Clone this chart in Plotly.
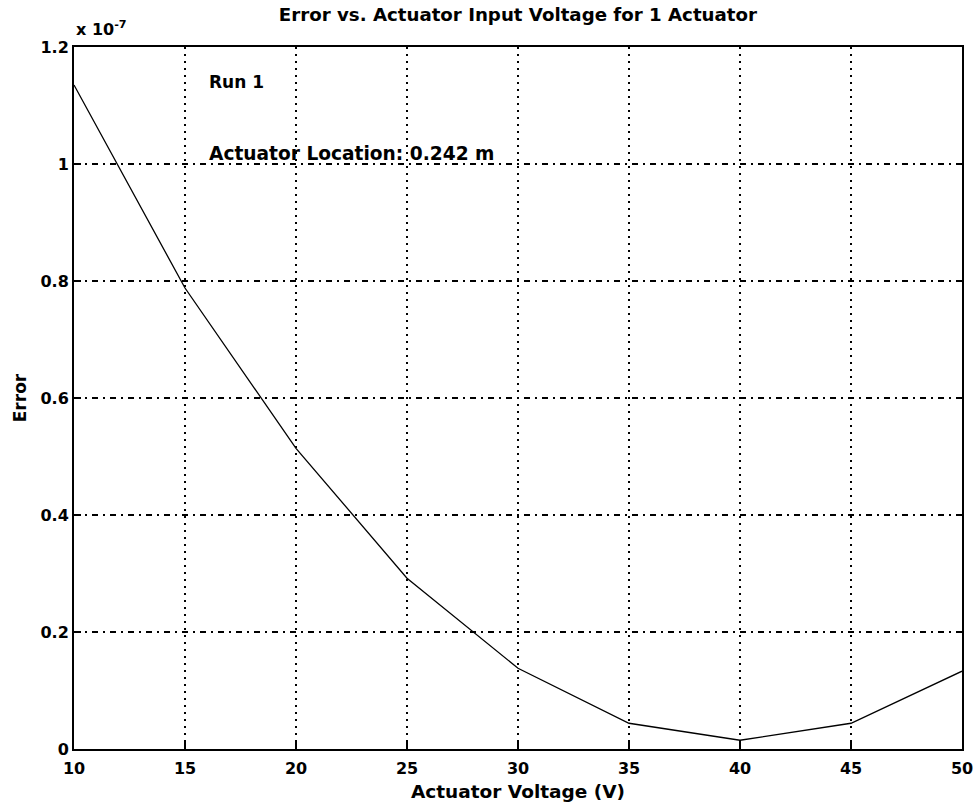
import plotly.graph_objects as go

# Data (error in units of 1e-7)
voltage = [10, 15, 20, 25, 30, 35, 40, 45, 50]
error_e7 = [1.135, 0.788, 0.514, 0.292, 0.138, 0.044, 0.015, 0.044, 0.133]

x_ticks = [10, 15, 20, 25, 30, 35, 40, 45, 50]
x_ticktext = ["10", "15", "20", "25", "30", "35", "40", "45", "50"]
y_ticks = [0, 0.2, 0.4, 0.6, 0.8, 1.0, 1.2]
y_ticktext = ["0", "0.2", "0.4", "0.6", "0.8", "1", "1.2"]

FONT = "DejaVu Sans, Arial, sans-serif"

fig = go.Figure()
fig.add_trace(go.Scatter(x=voltage, y=error_e7, mode="lines",
                         line=dict(color="black", width=1.3), showlegend=False))

fig.update_layout(
    width=979, height=812,
    margin=dict(l=74, r=17, t=47, b=63),
    paper_bgcolor="white", plot_bgcolor="white",
    font=dict(family=FONT, color="black", size=16),
    title=dict(text="<b>Error vs. Actuator Input Voltage for 1 Actuator</b>",
               x=0.529, xanchor="center", y=0.982, yanchor="middle",
               font=dict(size=18.2, family=FONT)),
    xaxis=dict(range=[10, 50], tickvals=x_ticks, ticktext=[f"<b>{t}</b>" for t in x_ticktext],
               showgrid=True, gridcolor="black", griddash="2px,5px", gridwidth=1.5,
               showline=True, linecolor="black", linewidth=2, mirror=True,
               ticks="inside", ticklen=7, tickcolor="black", tickwidth=1.5, zeroline=False,
               automargin=False, ticklabelstandoff=4,
               title=dict(text="<b>Actuator Voltage (V)</b>", font=dict(size=18.5), standoff=8),
               tickfont=dict(size=16)),
    yaxis=dict(range=[0, 1.2], tickvals=y_ticks, ticktext=[f"<b>{t}</b>" for t in y_ticktext],
               showgrid=True, gridcolor="black", griddash="6px,5px,2px,5px", gridwidth=1.5,
               showline=True, linecolor="black", linewidth=2, mirror=True,
               ticks="inside", ticklen=7, tickcolor="black", tickwidth=1.5, zeroline=False,
               automargin=False,
               title=dict(text="<b>Error</b>", font=dict(size=17), standoff=10),
               tickfont=dict(size=16)),
)

fig.add_annotation(xref="paper", yref="paper", x=0.0, y=1.0, xanchor="left", yanchor="bottom",
                   yshift=6, text="<b>x 10<sup>-7</sup></b>", showarrow=False, font=dict(size=16))
fig.add_annotation(x=16.0, y=1.14, xanchor="left", yanchor="middle",
                   text="<b>Run 1</b>", showarrow=False, font=dict(size=17))
fig.add_annotation(x=16.0, y=1.0, xanchor="left", yanchor="bottom", yshift=-2,
                   text="<b>Actuator Location: 0.242 m</b>", showarrow=False, font=dict(size=18.6))

fig.write_html("out.html", config={"displayModeBar": False},
               post_script="document.body.style.margin='0px';")
